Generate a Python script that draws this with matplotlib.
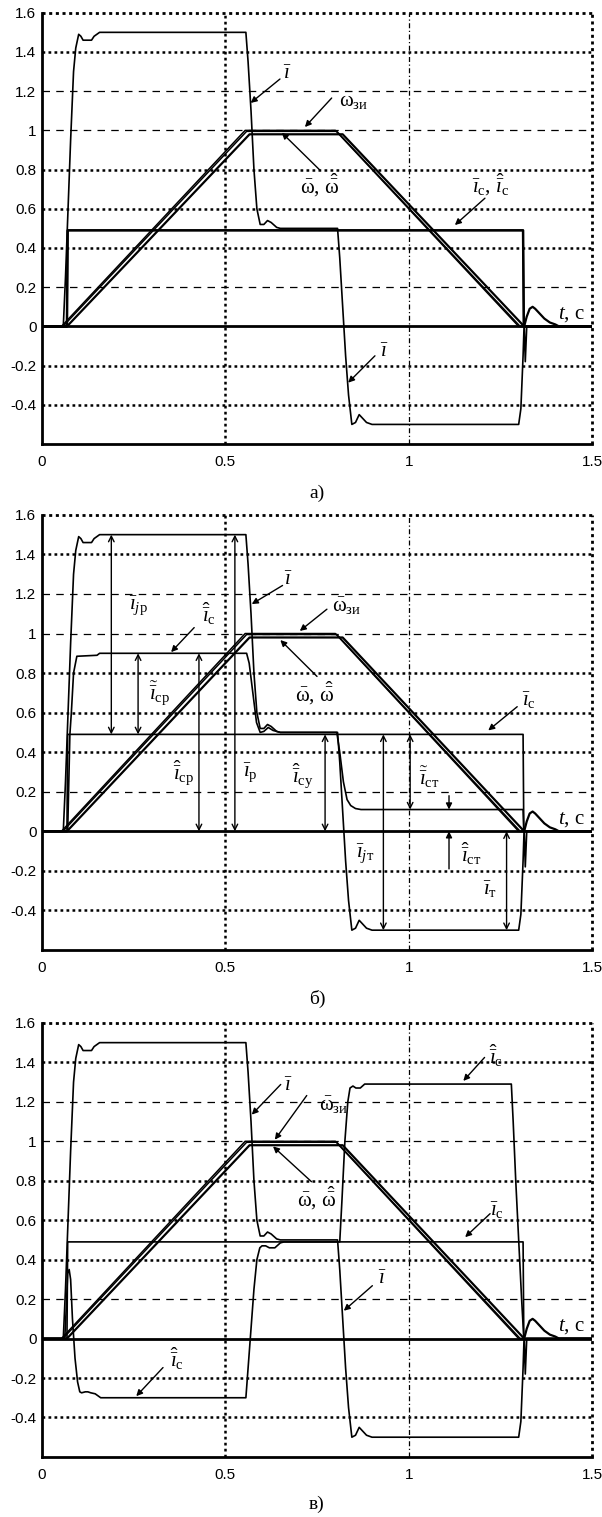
import matplotlib
matplotlib.use("Agg")
import matplotlib.pyplot as plt

plt.rcParams["font.family"] = ["Liberation Sans", "DejaVu Sans"]
plt.rcParams["mathtext.fontset"] = "custom"
plt.rcParams["mathtext.rm"] = "Liberation Serif"
plt.rcParams["mathtext.it"] = "Liberation Serif:italic"
plt.rcParams["mathtext.bf"] = "Liberation Serif:bold"

SERIF = ["Liberation Serif", "DejaVu Serif"]
NOTE_SIZE = 15

# --- speed reference and speed (same in all three runs) ---
t_wzi = [0, 0.053, 0.554, 0.80, 1.30, 1.5]
w_zi = [0, 0, 1.0, 1.0, 0, 0]

t_west = [0, 0.057, 0.558, 0.804, 1.304, 1.5]
w_est = [0, 0, 0.995, 0.995, 0, 0]

t_w = [0, 0.068, 0.566, 0.82, 1.315, 1.322, 1.33, 1.338, 1.345,
       1.355, 1.37, 1.385, 1.40, 1.41, 1.5]
w = [0, 0, 0.98, 0.98, 0.0, 0.05, 0.09, 0.10, 0.09,
     0.07, 0.04, 0.02, 0.01, 0, 0]

# --- motor current ---
t_i = [0, 0.058, 0.064, 0.07, 0.078, 0.086, 0.092, 0.1, 0.106, 0.112,
       0.135, 0.142, 0.157, 0.556, 0.562, 0.57, 0.578, 0.586, 0.595,
       0.605, 0.615, 0.625, 0.64, 0.65, 0.806, 0.812, 0.82, 0.828,
       0.836, 0.845, 0.855, 0.865, 0.875, 0.885, 0.9, 1.30, 1.306,
       1.312, 1.315, 1.318, 1.322, 1.5]
i_mot = [0, 0, 0.25, 0.55, 0.95, 1.3, 1.42, 1.49, 1.48, 1.46,
         1.46, 1.48, 1.5, 1.5, 1.35, 1.1, 0.8, 0.6, 0.52,
         0.52, 0.54, 0.53, 0.505, 0.5, 0.5, 0.35, 0.1, -0.15,
         -0.35, -0.5, -0.49, -0.45, -0.47, -0.49, -0.5, -0.5, -0.42,
         -0.15, 0.02, -0.18, 0, 0]

# --- load current (true) ---
t_ic = [0, 0.068, 0.07, 1.312, 1.314, 1.5]
i_c = [0, 0, 0.49, 0.49, 0, 0]

# --- load current estimate, run б ---
t_ic_b = [0, 0.07, 0.076, 0.08, 0.086, 0.095, 0.15, 0.157, 0.558, 0.565,
          0.575, 0.585, 0.595, 0.605, 0.617, 0.63, 0.65, 0.804, 0.812,
          0.822, 0.832, 0.842, 0.855, 0.87, 1.312, 1.314, 1.5]
ic_est_b = [0, 0, 0.49, 0.6, 0.8, 0.885, 0.89, 0.9, 0.9, 0.85,
            0.7, 0.55, 0.5, 0.505, 0.525, 0.51, 0.5, 0.5, 0.4,
            0.25, 0.16, 0.13, 0.115, 0.11, 0.11, 0, 0]

# --- load current estimate, run в ---
t_ic_c = [0, 0.062, 0.066, 0.07, 0.074, 0.078, 0.083, 0.09, 0.097, 0.103,
          0.108, 0.118, 0.125, 0.133, 0.145, 0.16, 0.168, 0.556, 0.562,
          0.57, 0.578, 0.586, 0.594, 0.6, 0.61, 0.62, 0.635, 0.65, 0.66,
          0.812, 0.818, 0.826, 0.834, 0.84, 0.848, 0.856, 0.868, 0.88,
          1.28, 1.285, 1.292, 1.3, 1.308, 1.314, 1.5]
ic_est_c = [0, 0, 0.15, 0.33, 0.35, 0.3, 0.1, -0.1, -0.22, -0.27,
            -0.275, -0.27, -0.27, -0.275, -0.28, -0.3, -0.3, -0.3, -0.15,
            0.05, 0.25, 0.4, 0.46, 0.47, 0.47, 0.46, 0.46, 0.485, 0.49,
            0.49, 0.7, 1.0, 1.2, 1.27, 1.28, 1.27, 1.27, 1.29,
            1.29, 1.1, 0.8, 0.5, 0.2, 0, 0]

x_ticks = [0, 0.5, 1, 1.5]
y_ticks = [-0.4, -0.2, 0, 0.2, 0.4, 0.6, 0.8, 1.0, 1.2, 1.4, 1.6]
dotted_levels = [-0.4, -0.2, 0.4, 0.6, 0.8, 1.4]
dashed_levels = [0.2, 1.0, 1.2]

I_BAR = r"\bar{\imath}"
I_HAT = r"\hat{\bar{\imath}}"
I_TIL = r"\tilde{\bar{\imath}}"
W_BAR = r"\bar{\mathrm{ω}}"
W_HAT = r"\hat{\bar{\mathrm{ω}}}"

LBL_I = "$" + I_BAR + "$"
LBL_WZI = "$" + W_BAR + r"_{\mathrm{зи}}$"
LBL_W = "$" + W_BAR + r",\," + W_HAT + "$"
LBL_IC = "$" + I_BAR + r"_{\mathrm{с}}$"
LBL_ICE = "$" + I_HAT + r"_{\mathrm{с}}$"
LBL_T = r"$t$, с"

# pointer notes: label, label centre, arrow tail, arrow tip
notes_a = [
    (LBL_I, (0.668, 1.285), (0.649, 1.262), (0.569, 1.14)),
    (LBL_WZI, (0.85, 1.15), (0.79, 1.165), (0.717, 1.017)),
    (LBL_W, (0.757, 0.725), (0.758, 0.797), (0.654, 0.988)),
    ("$" + I_BAR + r"_{\mathrm{с}},\," + I_HAT + r"_{\mathrm{с}}$",
     (1.224, 0.725), (1.208, 0.654), (1.126, 0.517)),
    (LBL_I, (0.934, -0.135), (0.908, -0.15), (0.835, -0.287)),
]
notes_b = [
    (LBL_I, (0.672, 1.27), (0.656, 1.243), (0.572, 1.149)),
    (LBL_ICE, (0.455, 1.10), (0.415, 1.03), (0.352, 0.906)),
    (LBL_WZI, (0.83, 1.14), (0.777, 1.123), (0.703, 1.013)),
    (LBL_W, (0.745, 0.70), (0.75, 0.783), (0.65, 0.967)),
    (LBL_IC, (1.327, 0.66), (1.296, 0.63), (1.217, 0.51)),
]
notes_c = [
    (LBL_I, (0.672, 1.28), (0.651, 1.288), (0.572, 1.135)),
    (LBL_WZI, (0.795, 1.18), (0.722, 1.232), (0.635, 1.008)),
    (LBL_W, (0.748, 0.715), (0.735, 0.795), (0.63, 0.974)),
    (LBL_ICE, (1.238, 1.43), (1.207, 1.425), (1.149, 1.306)),
    (LBL_IC, (1.24, 0.65), (1.222, 0.633), (1.154, 0.514)),
    (LBL_I, (0.928, 0.30), (0.901, 0.268), (0.823, 0.141)),
    (LBL_ICE, (0.367, -0.105), (0.33, -0.147), (0.257, -0.292)),
]

# dimension arrows of run б: label, label centre, x, y from, y to
dims_b = [
    ("$" + I_BAR + r"_{j\mathrm{р}}$", (0.262, 1.14), 0.189, 0.49, 1.5),
    ("$" + I_TIL + r"_{\mathrm{ср}}$", (0.322, 0.70), 0.262, 0.49, 0.9),
    ("$" + I_HAT + r"_{\mathrm{ср}}$", (0.385, 0.295), 0.428, 0.0, 0.9),
    ("$" + I_BAR + r"_{\mathrm{р}}$", (0.567, 0.295), 0.526, 0.0, 1.5),
    ("$" + I_HAT + r"_{\mathrm{су}}$", (0.712, 0.28), 0.772, 0.0, 0.49),
    ("$" + I_BAR + r"_{j\mathrm{т}}$", (0.881, -0.115), 0.931, -0.5, 0.49),
    ("$" + I_TIL + r"_{\mathrm{ст}}$", (1.055, 0.27), 1.004, 0.11, 0.49),
    ("$" + I_BAR + r"_{\mathrm{т}}$", (1.222, -0.295), 1.267, -0.5, 0.0),
]


def setup_axes(ax):
    ax.set_xlim(0, 1.5)
    ax.set_ylim(-0.6, 1.6)
    for y in dotted_levels:
        ax.axhline(y, color="k", lw=1.8, ls=(0, (1.1, 1.3)), zorder=1)
    for y in dashed_levels:
        ax.axhline(y, color="k", lw=0.9, ls=(0, (6, 5)), zorder=1)
    ax.axvline(0.5, color="k", lw=1.8, ls=(0, (1.1, 1.3)), zorder=1)
    ax.axvline(1.0, color="k", lw=0.9, ls=(0, (4, 2, 1, 2)), zorder=1)
    ax.axhline(1.6, color="k", lw=2.0, ls=(0, (1.1, 1.3)), zorder=4, clip_on=False)
    ax.axvline(1.5, color="k", lw=2.0, ls=(0, (1.1, 1.3)), zorder=4, clip_on=False)
    ax.axhline(0.0, color="k", lw=2.0, zorder=2)
    ax.spines["top"].set_visible(False)
    ax.spines["right"].set_visible(False)
    ax.spines["left"].set_linewidth(2.0)
    ax.spines["bottom"].set_linewidth(2.0)
    ax.set_xticks(x_ticks)
    ax.set_xticklabels(["%g" % v for v in x_ticks])
    ax.set_yticks(y_ticks)
    ax.set_yticklabels(["%g" % v for v in y_ticks])
    ax.tick_params(axis="x", length=0, pad=8, labelsize=11)
    ax.tick_params(axis="y", length=0, pad=4, labelsize=11)


def draw_notes(ax, notes):
    for label, pos, tail, tip in notes:
        ax.annotate("", xy=tip, xytext=tail,
                    arrowprops=dict(arrowstyle="-|>", lw=1.0, color="k",
                                    mutation_scale=9, shrinkA=0, shrinkB=0))
        ax.text(pos[0], pos[1], label, fontsize=NOTE_SIZE, family=SERIF,
                ha="center", va="center")
    ax.text(1.445, 0.06, LBL_T, fontsize=NOTE_SIZE, family=SERIF,
            ha="center", va="center")


def draw_dims(ax, dims):
    for label, pos, x, y0, y1 in dims:
        ax.annotate("", xy=(x, y1), xytext=(x, y0),
                    arrowprops=dict(arrowstyle="<->", lw=1.0, color="k",
                                    mutation_scale=10, shrinkA=0, shrinkB=0))
        ax.text(pos[0], pos[1], label, fontsize=NOTE_SIZE, family=SERIF,
                ha="center", va="center")


fig = plt.figure(figsize=(6.02, 15.17), dpi=100)
left, width = 0.0698, 0.9136
ax_a = fig.add_axes([left, 0.7073, width, 0.2843])
ax_b = fig.add_axes([left, 0.3738, width, 0.2868])
ax_c = fig.add_axes([left, 0.0396, width, 0.2861])

for ax in (ax_a, ax_b, ax_c):
    setup_axes(ax)
    ax.plot(t_wzi, w_zi, color="k", lw=1.1, zorder=3)
    ax.plot(t_west, w_est, color="k", lw=1.1, zorder=3)
    ax.plot(t_w, w, color="k", lw=1.6, zorder=3)
    ax.plot(t_i, i_mot, color="k", lw=1.2, zorder=3)
    ax.plot(t_ic, i_c, color="k", lw=1.2, zorder=3)

# run а: estimate coincides with the true load current
ax_a.plot(t_ic, i_c, color="k", lw=1.8, zorder=3)
ax_b.plot(t_ic_b, ic_est_b, color="k", lw=1.2, zorder=3)
ax_c.plot(t_ic_c, ic_est_c, color="k", lw=1.2, zorder=3)

draw_notes(ax_a, notes_a)
draw_notes(ax_b, notes_b)
draw_notes(ax_c, notes_c)
draw_dims(ax_b, dims_b)

# split arrows for the steady estimate during braking
for y_from, y_to in ((0.18, 0.11), (-0.19, 0.0)):
    ax_b.annotate("", xy=(1.11, y_to), xytext=(1.11, y_from),
                  arrowprops=dict(arrowstyle="-|>", lw=1.0, color="k",
                                  mutation_scale=9, shrinkA=0, shrinkB=0))
ax_b.text(1.171, -0.115, "$" + I_HAT + r"_{\mathrm{ст}}$", fontsize=NOTE_SIZE,
          family=SERIF, ha="center", va="center")

for y, cap in ((0.675, "а)"), (0.3415, "б)"), (0.0085, "в)")):
    fig.text(left + width / 2, y, cap, fontsize=14, family=SERIF,
             ha="center", va="center")

fig.savefig("out.png", dpi=100)
plt.close(fig)
